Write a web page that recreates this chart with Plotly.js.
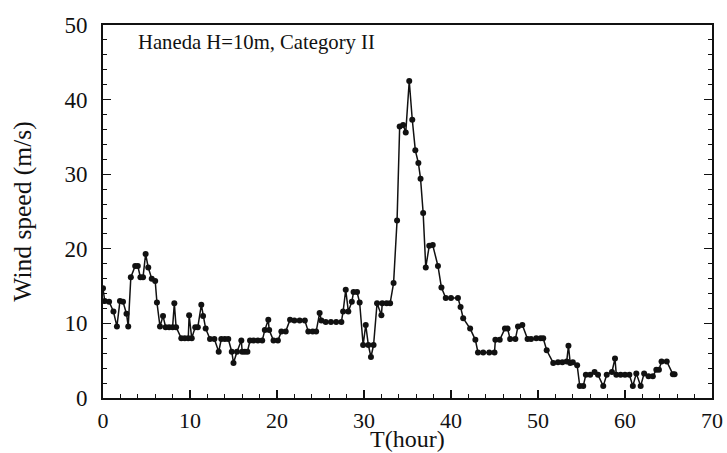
<!DOCTYPE html>
<html>
<head>
<meta charset="utf-8">
<script src="https://cdn.plot.ly/plotly-3.0.1.min.js"></script>
<style>html,body{margin:0;padding:0;background:#fff;}#chart{width:727px;height:453px;}</style>
</head>
<body>
<div id="chart"></div>
<script>
const hours = [0.0,0.2,0.7,1.2,1.6,1.95,2.3,2.7,2.9,3.2,3.7,4.0,4.3,4.6,4.9,5.2,5.6,6.0,6.2,6.55,6.9,7.2,7.6,8.0,8.2,8.4,9.0,9.4,9.8,9.9,10.2,10.6,10.9,11.3,11.5,11.8,12.3,12.8,13.3,13.6,14.0,14.4,14.8,15.0,15.4,15.9,16.0,16.3,16.6,16.9,17.3,17.8,18.3,18.6,19.0,19.1,19.6,20.1,20.5,21.0,21.5,22.0,22.6,23.2,23.6,24.1,24.5,24.9,25.1,25.6,26.2,26.8,27.4,27.6,27.9,28.2,28.6,28.8,29.2,29.5,29.9,30.2,30.5,30.8,31.1,31.5,32.0,32.1,32.6,33.0,33.4,33.8,34.1,34.5,34.8,35.2,35.55,35.9,36.25,36.5,36.8,37.1,37.5,37.9,38.5,38.9,39.4,40.0,40.8,41.1,41.4,42.2,42.8,43.1,43.7,44.4,45.0,45.1,45.6,46.2,46.5,46.8,47.4,47.7,48.2,48.8,49.2,49.8,50.3,50.6,51.0,51.75,52.3,52.8,53.3,53.5,53.7,54.0,54.5,54.8,55.2,55.5,56.0,56.5,56.9,57.5,57.9,58.5,58.85,59.0,59.5,60.0,60.5,60.9,61.3,61.8,62.2,62.7,63.2,63.6,63.9,64.2,64.8,65.5,65.7];
const windSpeed = [14.7,13.0,12.9,11.6,9.6,13.0,12.9,11.3,9.6,16.2,17.7,17.7,16.2,16.2,19.3,17.5,16.0,15.7,12.8,9.6,11.0,9.5,9.5,9.5,12.7,9.5,8.0,8.0,8.0,11.1,8.0,9.5,9.5,12.5,11.0,9.3,7.9,7.9,6.2,7.9,7.9,7.9,6.2,4.7,6.2,7.7,6.2,6.2,6.2,7.7,7.7,7.7,7.7,9.1,10.5,9.1,7.7,7.7,8.9,8.9,10.5,10.4,10.4,10.4,8.9,8.9,8.9,11.4,10.4,10.2,10.2,10.2,10.2,11.6,14.5,11.6,12.9,14.2,14.2,12.8,7.1,9.8,7.1,5.5,7.1,12.7,11.1,12.7,12.7,12.7,15.4,23.8,36.4,36.6,35.6,42.5,37.3,33.2,31.5,29.4,24.8,17.5,20.4,20.5,17.7,14.8,13.4,13.4,13.4,12.2,10.7,9.3,7.8,6.1,6.1,6.1,6.1,7.8,7.8,9.3,9.3,7.9,7.9,9.6,9.8,7.9,7.9,8.0,8.0,8.0,6.4,4.7,4.8,4.8,4.9,7.0,4.7,4.8,4.4,1.6,1.6,3.1,3.1,3.5,3.1,1.6,3.1,3.5,5.3,3.1,3.1,3.1,3.1,1.6,3.3,1.6,3.3,2.9,2.9,3.8,3.8,4.9,4.9,3.2,3.2];
const xTicks = [0,10,20,30,40,50,60,70];
const yTicks = [0,10,20,30,40,50];
const labelText = "Haneda H=10m, Category II";
const xTitle = "T(hour)";
const yTitle = "Wind speed (m/s)";

const font = {family: "Liberation Serif, Times New Roman, serif", color: "#111"};
const trace = {
  x: hours, y: windSpeed, type: "scatter", mode: "lines+markers",
  line: {color: "#111", width: 1.5},
  marker: {color: "#111", size: 6},
  hoverinfo: "skip"
};
const layout = {
  width: 727, height: 453,
  margin: {l: 103, r: 15, t: 25, b: 55},
  paper_bgcolor: "#fff", plot_bgcolor: "#fff",
  showlegend: false,
  font: Object.assign({size: 20}, font),
  xaxis: {
    range: [0, 70], tickvals: xTicks, ticktext: xTicks.map(String),
    ticks: "inside", ticklen: 8, tickwidth: 1.2, tickcolor: "#111",
    minor: {dtick: 2, ticks: "inside", ticklen: 4, tickcolor: "#111", tickwidth: 1},
    showline: true, linecolor: "#111", linewidth: 2, mirror: true,
    showgrid: false, zeroline: false, ticklabelstandoff: 2,
    tickfont: Object.assign({size: 22}, font)
  },
  yaxis: {
    range: [0, 50], tickvals: yTicks, ticktext: yTicks.map(String),
    ticks: "inside", ticklen: 8, tickwidth: 1.2, tickcolor: "#111",
    minor: {dtick: 2, ticks: "inside", ticklen: 4, tickcolor: "#111", tickwidth: 1},
    showline: true, linecolor: "#111", linewidth: 2, mirror: "allticks",
    showgrid: false, zeroline: false, ticklabelstandoff: 9,
    tickfont: Object.assign({size: 23}, font),
    title: {text: yTitle, font: Object.assign({size: 25.5}, font), standoff: 25}
  },
  annotations: [{
    text: labelText, xref: "paper", yref: "paper", x: 0.055, y: 0.988,
    xanchor: "left", yanchor: "top", showarrow: false,
    font: Object.assign({size: 20.7}, font)
  }, {
    text: xTitle, xref: "paper", yref: "paper", x: 0.5, y: -0.110,
    xanchor: "center", yanchor: "middle", showarrow: false, borderpad: 0,
    font: Object.assign({size: 24}, font)
  }]
};
Plotly.newPlot("chart", [trace], layout, {displayModeBar: false, staticPlot: true});
</script>
</body>
</html>
